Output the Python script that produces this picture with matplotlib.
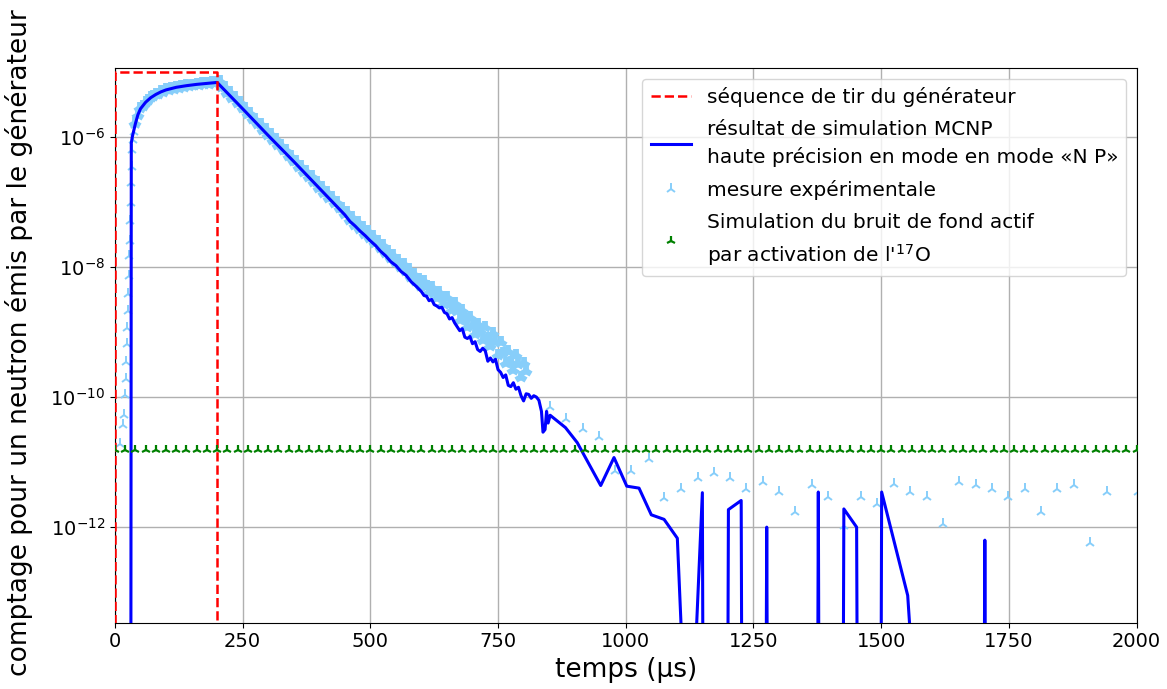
import numpy as np
import matplotlib
matplotlib.use("Agg")
import matplotlib.pyplot as plt
from matplotlib.ticker import NullLocator

# ---------------- data (log10 of counts) -------------
# firing sequence of the generator (dashed rectangle)
seq_t = [0, 0, 200, 200]
seq_v = [0.0, 1.0e-5, 1.0e-5, 0.0]

# MCNP simulation (solid blue line), log10 values
sim_t = [31, 32, 34, 37, 40, 45, 50, 60, 70, 80, 90, 100, 120, 140, 160, 180, 200,
         250, 300, 350, 400, 450,
         460, 470, 480, 490, 500, 510, 520, 530, 540, 550, 560, 570, 580, 590, 600,
         605, 610, 615, 620, 625, 630, 635, 640, 645, 650, 655, 660, 665, 670, 675,
         680, 685, 690, 695, 700, 705, 710, 715, 720, 725, 730, 735, 740, 745, 750,
         755, 760, 765, 770, 775, 780, 785, 790, 795, 800, 805, 810, 815, 820, 825,
         830, 835, 838, 842, 845, 848, 852,
         882, 905, 951, 977, 1002, 1026, 1050, 1075, 1101, 1111, 1136, 1150, 1151,
         1200, 1201, 1226, 1227, 1275, 1276, 1277, 1376, 1377, 1378, 1426, 1427,
         1452, 1453, 1500, 1501, 1552, 1560, 1702, 1703, 1704, 2000]
sim_log = [-16.0, -6.10, -6.00, -5.90, -5.80, -5.66, -5.57, -5.47, -5.40, -5.35, -5.31,
           -5.28, -5.24, -5.215, -5.195, -5.18, -5.165,
           -5.57, -5.98, -6.38, -6.79, -7.20,
           -7.30, -7.37, -7.45, -7.52, -7.60, -7.67, -7.76, -7.83, -7.92, -7.98, -8.07,
           -8.13, -8.23, -8.30, -8.38,
           -8.44, -8.45, -8.52, -8.50, -8.58, -8.60, -8.63, -8.62, -8.70, -8.72, -8.80,
           -8.78, -8.86, -8.92, -8.98, -8.95, -9.08, -9.10, -9.07, -9.18, -9.15, -9.27,
           -9.30, -9.25, -9.29, -9.45, -9.40, -9.46, -9.42, -9.58, -9.62, -9.70, -9.66,
           -9.82, -9.84, -9.78, -9.88, -9.85, -9.98, -10.06, -9.95, -9.96, -10.02,
           -9.98, -10.00, -10.05, -10.22, -10.54, -10.50, -10.22, -10.40, -10.28,
           -10.47, -10.70, -11.36, -10.93, -11.37, -11.40, -11.81, -11.88, -12.17,
           -14.0, -14.0, -11.47, -14.0,
           -14.0, -11.73, -11.59, -14.0, -14.0, -12.00, -14.0, -14.0, -11.46, -14.0,
           -14.0, -11.72, -12.00, -14.0, -14.0, -11.46, -13.05, -14.0, -14.0, -12.20,
           -14.0, -14.0]

# experimental measurement (light blue tri markers), log10 values
exp_rise_t = [10, 15, 17, 19, 21, 22, 23, 24, 25, 26, 27, 28, 29, 30, 31, 32, 33,
              34, 35, 37, 39]
exp_rise_log = [-10.72, -10.43, -10.28, -9.97, -9.72, -9.46, -9.19, -8.94, -8.68,
                -8.42, -8.14, -7.83, -7.60, -7.29, -7.02, -6.71, -6.47, -6.20, -6.05,
                -5.92, -5.82]

exp_dense_t = list(range(40, 806, 5))
exp_dense_log = [
    # 40 .. 200
    -5.79, -5.67, -5.56, -5.52, -5.46, -5.44, -5.39, -5.38, -5.34, -5.34, -5.30,
    -5.31, -5.27, -5.28, -5.25, -5.26, -5.23, -5.25, -5.22, -5.23, -5.21, -5.22,
    -5.20, -5.21, -5.19, -5.20, -5.18, -5.19, -5.17, -5.19, -5.16, -5.18, -5.16,
    # 205 .. 450
    -5.15, -5.24, -5.23, -5.32, -5.31, -5.40, -5.39, -5.48, -5.47, -5.56,
    -5.56, -5.65, -5.64, -5.73, -5.72, -5.81, -5.80, -5.89, -5.88, -5.97,
    -5.96, -6.05, -6.04, -6.13, -6.12, -6.21, -6.20, -6.29, -6.29, -6.38,
    -6.37, -6.46, -6.45, -6.54, -6.53, -6.62, -6.61, -6.70, -6.69, -6.78,
    -6.77, -6.86, -6.85, -6.94, -6.93, -7.02, -7.01, -7.10, -7.09, -7.18,
    # 455 .. 600
    -7.16, -7.28, -7.24, -7.35, -7.31, -7.42, -7.38, -7.49, -7.45, -7.56,
    -7.52, -7.63, -7.60, -7.71, -7.67, -7.78, -7.75, -7.86, -7.82, -7.92,
    -7.89, -8.00, -7.96, -8.06, -8.03, -8.15, -8.11, -8.22, -8.18, -8.29,
    # 605 .. 805
    -8.22, -8.30, -8.39, -8.31, -8.40, -8.48, -8.38, -8.47, -8.57, -8.46, -8.57,
    -8.67, -8.56, -8.68, -8.81, -8.66, -8.80, -8.92, -8.77, -8.90, -9.03, -8.87,
    -8.99, -9.12, -8.92, -9.09, -9.22, -9.02, -9.16, -9.35, -9.15, -9.33, -9.47,
    -9.30, -9.46, -9.59, -9.36, -9.50, -9.69, -9.48, -9.60]

exp_tail_t = [852, 884, 916, 948, 978, 1011, 1045, 1075, 1108, 1142, 1172, 1205, 1236,
              1269, 1301, 1331, 1365, 1395, 1428, 1461, 1491, 1525, 1556, 1589, 1622,
              1653, 1686, 1718, 1748, 1782, 1812, 1845, 1878, 1909, 1942, 2002]
exp_tail_log = [-10.155, -10.34, -10.49, -10.62, -11.14, -11.14, -10.96, -11.55, -11.41,
                -11.25, -11.16, -11.25, -11.41, -11.30, -11.46, -11.76, -11.35, -11.53,
                -11.98, -11.54, -11.64, -11.34, -11.46, -11.54, -11.95, -11.30, -11.35,
                -11.41, -11.53, -11.41, -11.76, -11.41, -11.35, -12.25, -11.46, -11.46]

# simulated active background (17O activation), constant level
bkg_t = list(range(0, 2001, 20))
bkg_level = 1.55e-11

# labels
xlabel = "temps (µs)"
ylabel = "comptage pour un neutron émis par le générateur"
lab_seq = "séquence de tir du générateur"
lab_sim = "résultat de simulation MCNP\nhaute précision en mode en mode «N P»"
lab_exp = "mesure expérimentale"
lab_bkg = "Simulation du bruit de fond actif\npar activation de l'$^{17}$O"
xticks = [0, 250, 500, 750, 1000, 1250, 1500, 1750, 2000]
yticks = [1e-12, 1e-10, 1e-8, 1e-6]

assert len(sim_t) == len(sim_log)
assert len(exp_dense_t) == len(exp_dense_log)
assert len(exp_rise_t) == len(exp_rise_log)
assert len(exp_tail_t) == len(exp_tail_log)

# ---------------- figure -----------------------------------------------------------
fig = plt.figure(figsize=(11.67, 6.89), dpi=100)
ax = fig.add_axes([0.0985, 0.0962, 0.8754, 0.8044])
ax.set_yscale("log")

h_seq, = ax.plot(seq_t, seq_v, color="red", linestyle="--", linewidth=1.8, zorder=4)
h_sim, = ax.plot(sim_t, 10.0 ** np.array(sim_log), color="blue", linewidth=2.2,
                 zorder=3)
# dense part of the measurement: overlapping markers form a continuous band
ax.plot(exp_dense_t, 10.0 ** np.array(exp_dense_log), linestyle="none", marker="2",
        color="lightskyblue", markersize=8.5, markeredgewidth=4.2, zorder=2)
ax.plot(exp_rise_t, 10.0 ** np.array(exp_rise_log), linestyle="none", marker="2",
        color="lightskyblue", markersize=8, markeredgewidth=1.4, zorder=2)
h_exp, = ax.plot(exp_tail_t, 10.0 ** np.array(exp_tail_log), linestyle="none",
                 marker="2", color="lightskyblue", markersize=8, markeredgewidth=1.4,
                 zorder=2)
h_bkg, = ax.plot(bkg_t, [bkg_level] * len(bkg_t), linestyle="none", marker="2",
                 color="green", markersize=7, markeredgewidth=1.6, zorder=4)

ax.set_xlim(0, 2000)
ax.set_ylim(3.4e-14, 1.12e-5)
ax.set_xticks(xticks)
ax.set_yticks(yticks)
ax.yaxis.set_minor_locator(NullLocator())
ax.tick_params(labelsize=14)
ax.grid(True, color="#b0b0b0", linewidth=1.0)
ax.set_axisbelow(True)

ax.set_xlabel(xlabel, fontsize=19)
ax.set_ylabel(ylabel, fontsize=19)
ax.yaxis.set_label_coords(-0.080, 0.505)

leg = ax.legend([h_seq, h_sim, h_exp, h_bkg], [lab_seq, lab_sim, lab_exp, lab_bkg],
                loc="upper right", fontsize=14.5, labelspacing=0.65)
for txt in leg.get_texts():
    txt.set_linespacing(1.5)

fig.savefig("out.png", dpi=100)
